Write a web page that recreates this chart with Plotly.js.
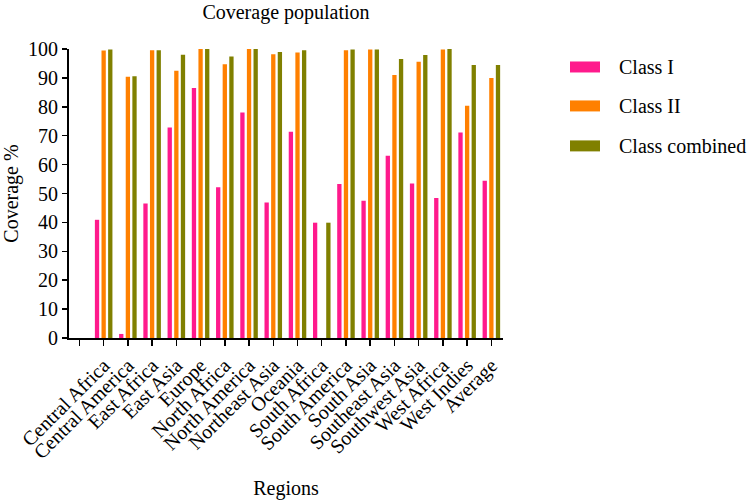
<!DOCTYPE html>
<html>
<head>
<meta charset="utf-8">
<script src="https://cdn.plot.ly/plotly-3.0.1.min.js"></script>
<style>html,body{margin:0;padding:0;background:#fff;}#chart{width:749px;height:500px;}</style>
</head>
<body>
<div id="chart"></div>
<script>
var regions = ["Central Africa","Central America","East Africa","East Asia","Europe","North Africa","North America","Northeast Asia","Oceania","South Africa","South America","South Asia","Southeast Asia","Southwest Asia","West Africa","West Indies","Average"];
var classI = [40.9, 1.4, 46.5, 72.8, 86.5, 52.2, 78.0, 46.9, 71.4, 39.9, 53.3, 47.5, 63.1, 53.5, 48.4, 71.1, 54.4];
var classII = [99.5, 90.4, 99.6, 92.5, 100, 94.7, 100, 98.2, 98.8, null, 99.6, 99.8, 91.0, 95.6, 99.8, 80.4, 90.0];
var classCombined = [99.8, 90.6, 99.6, 98.0, 100, 97.4, 100, 99.0, 99.6, 39.9, 99.8, 99.8, 96.5, 97.9, 100, 94.5, 94.5];
var seriesNames = ["Class I", "Class II", "Class combined"];
var seriesColors = ["#ff1a8c", "#ff8000", "#808000"];
var yTicks = [0,10,20,30,40,50,60,70,80,90,100];

var xPos = regions.map(function(_, i){ return i + 1; });
var tickVals = [0].concat(xPos);
var tickText = [""].concat(regions);
var seriesData = [classI, classII, classCombined];

var FONT = "'Liberation Serif', 'Times New Roman', serif";
var traces = seriesData.map(function(vals, k){
  return {type: "bar", x: xPos, y: vals, name: seriesNames[k],
    marker: {color: seriesColors[k], line: {width: 0}}, showlegend: false};
});

var L = 69, R = 503, T = 49, B = 338.3;
function px(x){ return (x - L) / (R - L); }
function py(y){ return (B - y) / (B - T); }
var legendY = [67, 106, 146];
var shapes = [], annotations = [];
seriesNames.forEach(function(n, k){
  shapes.push({type: "rect", xref: "paper", yref: "paper",
    x0: px(570), x1: px(600), y0: py(legendY[k] + 5.5), y1: py(legendY[k] - 5.5),
    fillcolor: seriesColors[k], line: {width: 0}});
  annotations.push({xref: "paper", yref: "paper", x: px(617), y: py(legendY[k]),
    xanchor: "left", yanchor: "middle", text: n, showarrow: false,
    font: {family: FONT, size: 20, color: "#000"}});
});

var layout = {
  width: 749, height: 500,
  margin: {l: L, r: 749 - R, t: T, b: 500 - B},
  paper_bgcolor: "#fff", plot_bgcolor: "#fff",
  font: {family: FONT, color: "#000", size: 19},
  title: {text: "Coverage population", x: 286/749, xanchor: "center", y: 1 - 12/500, yanchor: "middle",
    font: {family: FONT, size: 20, color: "#000"}},
  showlegend: false,
  barmode: "group", bargap: 0.18, bargroupgap: 0.35,
  xaxis: {range: [-0.43, 17.48], tickmode: "array", tickvals: tickVals, ticktext: tickText,
    tickangle: -45, ticks: "outside", ticklen: 6, tickwidth: 1.5, tickcolor: "#000",
    showline: true, linecolor: "#000", linewidth: 2, showgrid: false, zeroline: false,
    tickfont: {family: FONT, size: 20, color: "#000"}, automargin: false,
    title: {text: "Regions", font: {family: FONT, size: 20, color: "#000"}, standoff: 28}},
  yaxis: {range: [0, 100], tickmode: "array", tickvals: yTicks,
    ticks: "outside", ticklen: 5, tickwidth: 1.5, tickcolor: "#000",
    showline: true, linecolor: "#000", linewidth: 2, showgrid: false, zeroline: false,
    tickfont: {family: FONT, size: 20, color: "#000"}, automargin: false,
    title: {text: "Coverage %", font: {family: FONT, size: 20, color: "#000"}, standoff: 8}},
  shapes: shapes, annotations: annotations
};
Plotly.newPlot("chart", traces, layout, {displayModeBar: false, staticPlot: true});
</script>
</body>
</html>
